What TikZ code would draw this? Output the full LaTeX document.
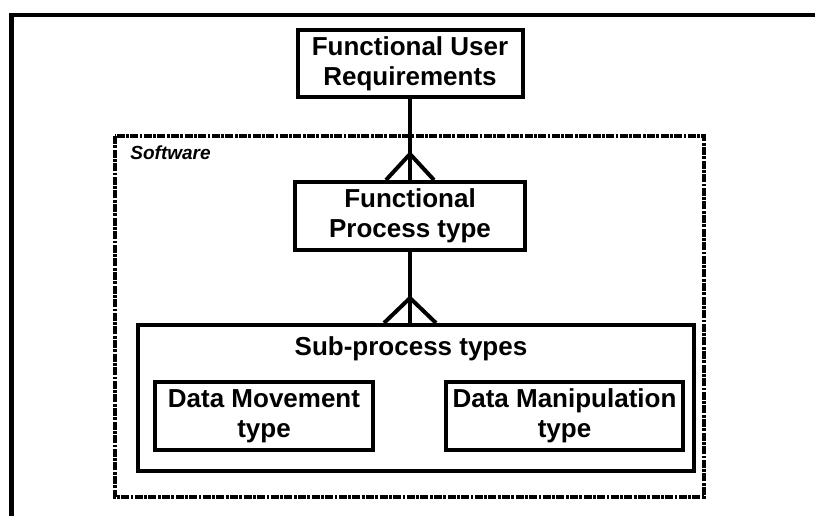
\documentclass[tikz,border=0pt]{standalone}
\usepackage{fontspec}
\setmainfont{Liberation Sans}
\usepackage{tikz}

\begin{document}
\begin{tikzpicture}[x=0.5pt,y=-0.5pt,
    box/.style={draw, line width=2pt, align=center, inner sep=0pt, font=\bfseries\fontsize{13}{15}\selectfont},
    link/.style={line width=2pt}]
    \useasboundingbox (0,0) rectangle (815,516);

    % Draw the page frame
    \draw[line width=2.3pt] (11.5,516) -- (11.5,15) -- (815,15);

    % Draw the software boundary
    \draw[line width=2.3pt, dash pattern=on 4pt off 0.7pt on 1.4pt off 0.7pt] (115,136) rectangle (704,497);
    \node[anchor=west, inner sep=0pt, font=\bfseries\itshape\fontsize{9.5}{11}\selectfont] (sw) at (130,153) {Software};

    % Draw the boxes
    \node[box, minimum width=112.5pt, minimum height=33.5pt] (fur) at (410,63.5) {Functional User\\Requirements};
    \node[box, minimum width=115pt, minimum height=34pt] (fp) at (410,216) {Functional\\Process type};
    \node[box, minimum width=278pt, minimum height=73pt] (sub) at (416,398) {};
    \node[font=\bfseries\fontsize{13}{15}\selectfont] (subname) at (411,349) {Sub-process types};
    \node[box, minimum width=109pt, minimum height=34pt] (dm) at (264,416) {Data Movement\\type};
    \node[box, minimum width=118.5pt, minimum height=34pt] (dmp) at (564.5,416) {Data Manipulation\\type};

    % Draw the links
    \coordinate (subtop) at (fp.south |- sub.north);
    \draw[link] (fur.south) -- (fp.north);
    \draw[link] (fp.north) ++(-24,0) -- ++(24,-26) -- ++(24,26);
    \draw[link] (fp.south) -- (subtop);
    \draw[link] (subtop) ++(-26,0) -- ++(26,-25) -- ++(26,25);
\end{tikzpicture}
\end{document}
